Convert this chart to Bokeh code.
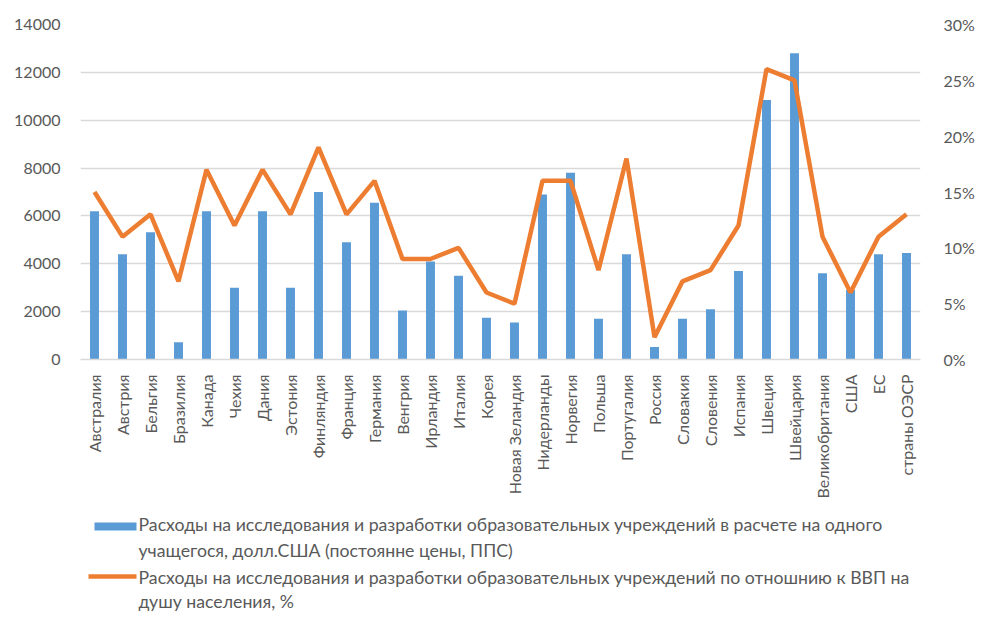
import math
from bokeh.plotting import figure
from bokeh.layouts import column
from bokeh.models import (FactorRange, Range1d, LinearAxis, SingleIntervalTicker,
                          PrintfTickFormatter, ColumnDataSource)
from bokeh.core.properties import value
from bokeh.embed import file_html
from bokeh.resources import INLINE

countries = ["Австралия", "Австрия", "Бельгия", "Бразилия", "Канада", "Чехия", "Дания",
             "Эстония", "Финляндия", "Франция", "Германия", "Венгрия", "Ирландия", "Италия",
             "Корея", "Новая Зеландия", "Нидерланды", "Норвегия", "Польша", "Португалия",
             "Россия", "Словакия", "Словения", "Испания", "Швеция", "Швейцария",
             "Великобритания", "США", "ЕС", "страны ОЭСР"]
spend_per_student = [6200, 4400, 5320, 720, 6200, 3000, 6200, 3000, 7000, 4900, 6550, 2050,
                     4100, 3500, 1750, 1550, 6900, 7800, 1700, 4400, 520, 1700, 2100, 3700,
                     10850, 12800, 3600, 2900, 4400, 4450]
share_gdp_pct = [15, 11, 13, 7, 17, 12, 17, 13, 19, 13, 16, 9, 9, 10, 6, 5, 16, 16, 8, 18,
                 2, 7, 8, 12, 26, 25, 11, 6, 11, 13]

label_bar = ["Расходы на исследования и разработки образовательных учреждений в расчете на одного",
             "учащегося, долл.США (постоянне цены, ППС)"]
label_line = ["Расходы на исследования и разработки образовательных учреждений по отношнию к ВВП на",
              "душу населения, %"]

FONT = "Lato"
GREY = "#595959"
GRID = "#d9d9d9"
BLUE = "#5B9BD5"
ORANGE = "#ED7D31"

src = ColumnDataSource(dict(c=countries, v=spend_per_student, s=share_gdp_pct))

p = figure(x_range=FactorRange(*countries), y_range=Range1d(0, 14000),
           width=983, height=508, output_backend="svg", toolbar_location=None,
           min_border_left=80, min_border_right=63, min_border_top=24, min_border_bottom=149)
p.extra_y_ranges = {"pct": Range1d(0, 30)}
p.outline_line_color = None

bars = p.vbar(x="c", top="v", width=0.32, source=src, fill_color=BLUE, line_color=None)
line = p.line(x="c", y="s", y_range_name="pct", source=src, line_color=ORANGE, line_width=4.5)

p.yaxis.ticker = SingleIntervalTicker(interval=2000)
p.ygrid.ticker = SingleIntervalTicker(interval=2000)
p.ygrid.grid_line_color = GRID
p.ygrid.grid_line_width = 1.3
p.xgrid.grid_line_color = None

rax = LinearAxis(y_range_name="pct", ticker=SingleIntervalTicker(interval=5),
                 formatter=PrintfTickFormatter(format="%d%%"))
p.add_layout(rax, "right")

for ax, st in ((p.yaxis[0], 14), (rax, 17)):
    ax.axis_line_color = None
    ax.major_tick_line_color = None
    ax.minor_tick_line_color = None
    ax.major_label_standoff = st
    ax.major_label_text_font = FONT
    ax.major_label_text_font_size = "16px"
    ax.major_label_text_color = GREY

xa = p.xaxis[0]
xa.axis_line_color = GRID
xa.axis_line_width = 1.3
xa.major_tick_line_color = None
xa.minor_tick_line_color = None
xa.major_label_orientation = math.pi / 2
xa.major_label_standoff = 9
xa.major_label_text_font = FONT
xa.major_label_text_font_size = "16px"
xa.major_label_text_color = GREY

# legend panel below the chart (its frame is aligned with the chart frame: page x 80..920)
lg = figure(width=983, height=118, output_backend="svg", toolbar_location=None,
            x_range=Range1d(80, 920), y_range=Range1d(118, 0),
            x_axis_type=None, y_axis_type=None, min_border=0)
lg.outline_line_color = None
lg.grid.visible = False
lg.rect(x=[115], y=[18], width=[42], height=[8], fill_color=BLUE, line_color=None)
lg.line(x=[88, 136], y=[68, 68], line_color=ORANGE, line_width=4.5)
lg.text(x=[138, 138, 138, 138], y=[16, 42, 69, 93],
        text=label_bar + label_line, text_font=value(FONT), text_font_size="17.7px",
        text_color=GREY, text_baseline="middle", text_align="left")

layout = column(p, lg)
open("out.html", "w").write(file_html(layout, INLINE))
